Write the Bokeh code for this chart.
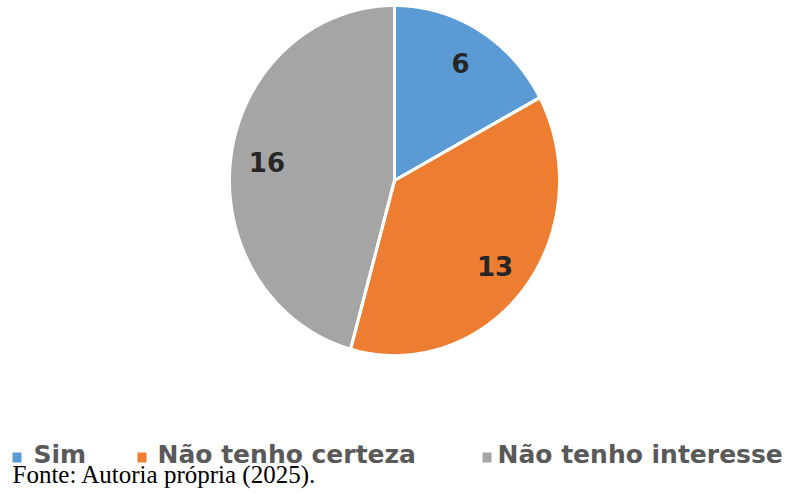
import numpy as np
from bokeh.plotting import figure
from bokeh.models import Range1d, ColumnDataSource, Label, BoxAnnotation
from bokeh.core.properties import value
from bokeh.embed import file_html
from bokeh.resources import INLINE

# ---- data ----
categories = ["Sim", "Não tenho certeza", "Não tenho interesse"]
counts = [6, 13, 16]
colors = ["#5B9BD5", "#ED7D31", "#A5A5A5"]
source_note = "Fonte: Autoria própria (2025)."

# ---- layout (pixels, origin bottom-left) ----
W, H = 793, 493
CX, CY = 394, 313          # pie centre
RX, RY = 165, 175          # pie radii
LABEL_R = 0.78             # relative radius of value labels
LEG_SQ_X = [12, 137, 482]  # legend square left edges
LEG_TX_X = [33, 157, 497]  # legend text left edges
LEG_SQ_B, LEG_SQ_T = 31, 41
LEG_MID = 39
NOTE_X, NOTE_Y = 12, 19

p = figure(width=W, height=H, output_backend="svg", toolbar_location=None,
           x_range=Range1d(0, W), y_range=Range1d(0, H),
           x_axis_location=None, y_axis_location=None, min_border=0,
           outline_line_color=None, tools="")
p.grid.visible = False
p.background_fill_color = "white"
p.border_fill_color = "white"

vals = np.array(counts, dtype=float)
fracs = vals / vals.sum()
ends = np.cumsum(fracs) * 2 * np.pi
starts = ends - fracs * 2 * np.pi

xs, ys = [], []
for a0, a1 in zip(starts, ends):
    t = np.linspace(a0, a1, 240)
    xs.append([CX] + list(CX + RX * np.sin(t)) + [CX])
    ys.append([CY] + list(CY + RY * np.cos(t)) + [CY])

src = ColumnDataSource(dict(xs=xs, ys=ys, color=colors, cat=categories))
p.patches("xs", "ys", source=src, fill_color="color", line_color=None)
p.patches("xs", "ys", source=src, fill_alpha=0, line_color="white", line_width=3,
          line_join="round")

mids = (starts + ends) / 2
lsrc = ColumnDataSource(dict(
    x=CX + LABEL_R * RX * np.sin(mids),
    y=CY + LABEL_R * RY * np.cos(mids),
    t=[str(c) for c in counts]))
p.text("x", "y", text="t", source=lsrc, text_font=value("DejaVu Sans"),
       text_font_style="bold", text_font_size="26px", text_align="center",
       text_baseline="middle", text_color="#262626")

for cat, col, sx, tx in zip(categories, colors, LEG_SQ_X, LEG_TX_X):
    p.add_layout(BoxAnnotation(left=sx, right=sx + 9, bottom=LEG_SQ_B, top=LEG_SQ_T,
                               fill_color=col, fill_alpha=1, line_color=None))
    p.add_layout(Label(x=tx, y=LEG_MID, text=cat, text_font="DejaVu Sans",
                       text_font_style="bold", text_font_size="25px",
                       text_color="#595959", text_baseline="middle"))

p.add_layout(Label(x=NOTE_X, y=NOTE_Y, text=source_note, text_font="Liberation Serif",
                   text_font_size="25px", text_color="black",
                   text_baseline="middle"))

open("out.html", "w").write(file_html(p, INLINE))
